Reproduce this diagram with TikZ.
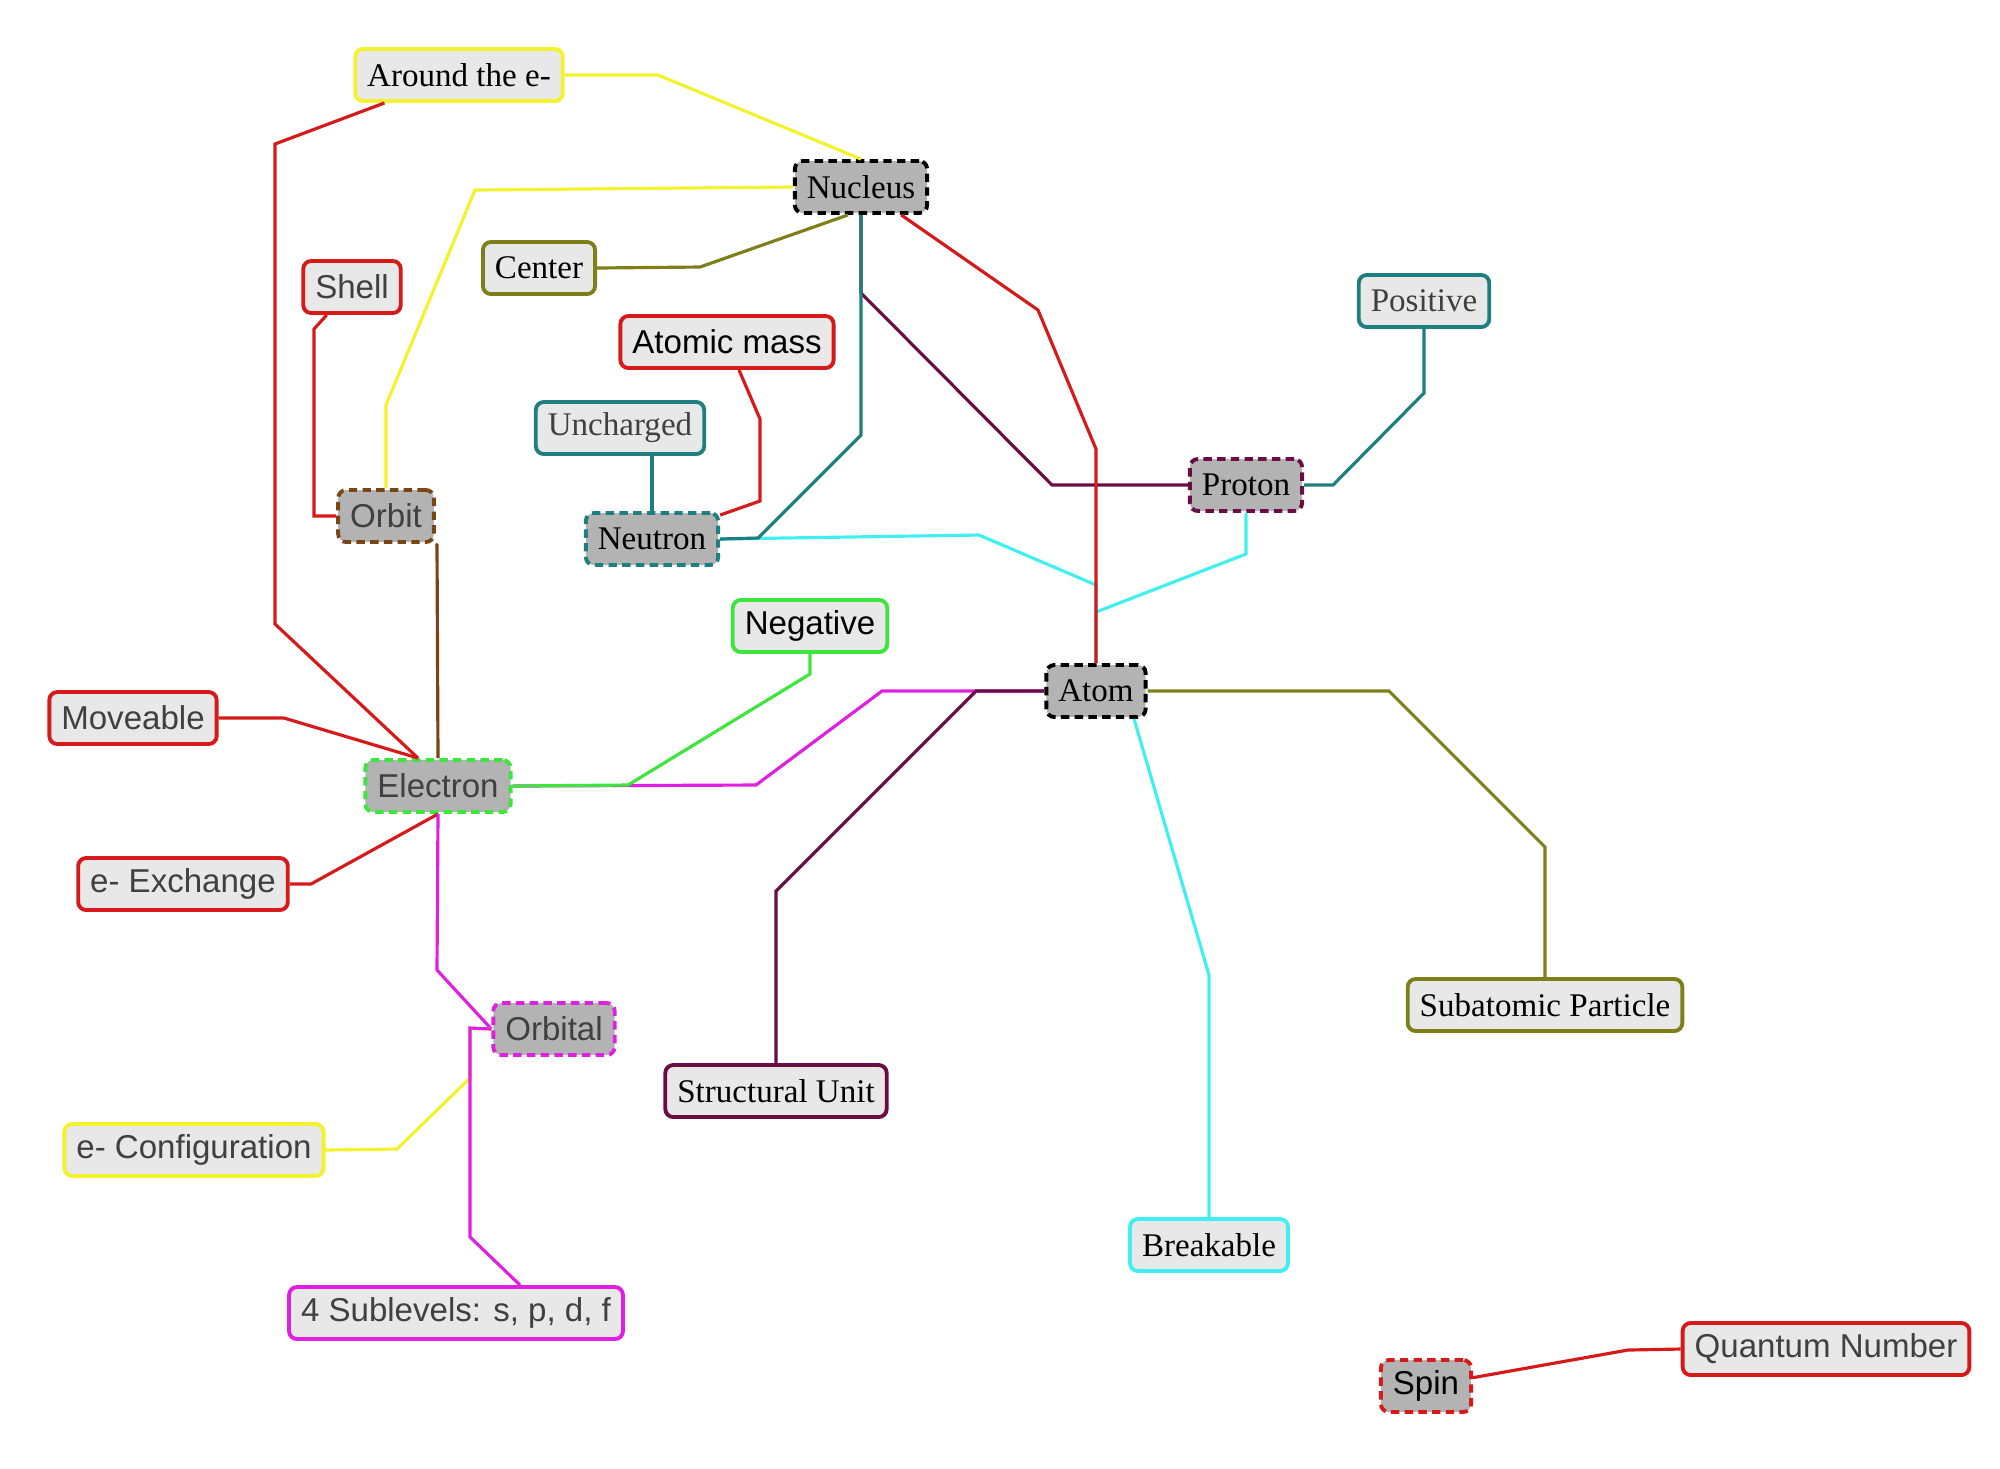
\documentclass[tikz,border=0pt]{standalone}
\usepackage{xcolor}
\usepackage{fontspec}
\setmainfont{Liberation Serif}
\setsansfont{Liberation Sans}

\definecolor{leafgray}{HTML}{E8E8E8}
\definecolor{hubgray}{HTML}{B3B3B3}
\definecolor{txtgray}{HTML}{404040}
\definecolor{cyel}{HTML}{F2F22E}
\definecolor{cred}{HTML}{D61A1A}
\definecolor{colive}{HTML}{7F7F1A}
\definecolor{cteal}{HTML}{1F7F7F}
\definecolor{cbrown}{HTML}{7A4514}
\definecolor{cgreen}{HTML}{3CE63C}
\definecolor{cmag}{HTML}{E020E0}
\definecolor{ccyan}{HTML}{40F0F0}
\definecolor{cmaroon}{HTML}{6B0D45}

\tikzset{
    leaf/.style={draw, rounded corners=0.08cm, fill=leafgray, line width=1.1pt,
        minimum height=0.52cm, inner xsep=0.12cm, inner ysep=0pt,
        font=\rmfamily\fontsize{9.4}{11}\selectfont},
    hub/.style={leaf, fill=hubgray, dash pattern=on 2.4pt off 1.5pt},
    sans/.style={font=\sffamily\fontsize{9.4}{11}\selectfont, text=txtgray},
    link/.style={line width=0.9pt}
}

\begin{document}
\begin{tikzpicture}[x=0.01cm, y=-0.01cm]
    \useasboundingbox (0,0) rectangle (2000,1468);

    % hubs
    \node[hub, draw=black] (nucleus) at (861,187) {Nucleus};
    \node[hub, draw=black] (atom) at (1096,691) {Atom};
    \node[hub, draw=cmaroon] (proton) at (1246,485) {Proton};
    \node[hub, draw=cteal] (neutron) at (652,539) {Neutron};
    \node[hub, draw=cbrown, sans] (orbit) at (386,516) {Orbit};
    \node[hub, draw=cgreen, sans] (electron) at (438,786) {Electron};
    \node[hub, draw=cmag, sans] (orbital) at (554,1029) {Orbital};
    \node[hub, draw=cred, sans, text=black] (spin) at (1426,1386) {Spin};

    % leaves
    \node[leaf, draw=cyel] (around) at (459,75) {Around the e-};
    \node[leaf, draw=colive] (center) at (539,268) {Center};
    \node[leaf, draw=cred, sans] (shell) at (352,287) {Shell};
    \node[leaf, draw=cred, sans, text=black] (atomic) at (727,342) {Atomic mass};
    \node[leaf, draw=cteal, text=txtgray] (uncharged) at (620,428) {Uncharged};
    \node[leaf, draw=cteal, text=txtgray] (positive) at (1424,301) {Positive};
    \node[leaf, draw=cgreen, sans, text=black] (negative) at (810,626) {Negative};
    \node[leaf, draw=cred, sans] (moveable) at (133,718) {Moveable};
    \node[leaf, draw=cred, sans] (exchange) at (183,884) {e- Exchange};
    \node[leaf, draw=cyel, sans] (config) at (194,1150) {e- Configuration};
    \node[leaf, draw=cmag, sans] (sublevels) at (456,1313) {4 Sublevels: s, p, d, f};
    \node[leaf, draw=cmaroon] (structural) at (776,1091) {Structural Unit};
    \node[leaf, draw=colive] (subatomic) at (1545,1005) {Subatomic Particle};
    \node[leaf, draw=ccyan] (breakable) at (1209,1245) {Breakable};
    \node[leaf, draw=cred, sans] (quantum) at (1826,1349) {Quantum Number};

    % links around the nucleus
    \draw[link, cyel] (around.east) -- (658,75) -- (nucleus.north);
    \draw[link, cred] (around) -- (275,144) -- (275,624) -- ([xshift=-0.2cm]electron.north);
    \draw[link, cyel] (nucleus.west) -- (475,190) -- (386,405) -- (orbit.north);
    \draw[link, colive] ([xshift=-0.13cm]nucleus.south) -- (700,267) -- (center.east);
    \draw[link, cred] (shell) -- (314,329) -- (314,516) -- (orbit.west);
    \draw[link, cred] (atomic) -- (760,419) -- (760,501) -- (neutron);
    \draw[link, cteal] (neutron.north |- uncharged.south) -- (neutron.north);
    \draw[link, cmaroon] (nucleus.south) -- (861,293) -- (1052,485) -- (proton.west);
    \draw[link, ccyan] (neutron.east) -- (979,535) -- (1096,585) -- (atom.north);
    \draw[link, ccyan] (proton.south) -- (1246,554) -- (1096,612) -- (atom.north);
    \draw[link, cteal] (nucleus.south) -- (861,435) -- (758,538) -- (neutron.east);
    \draw[link, cred] (nucleus) -- (1038,310) -- (1096,449) -- (atom.north);
    \draw[link, cteal] (proton.east) -- (1333,485) -- (1424,393) -- (positive.south);

    % links around the atom
    \draw[link, colive] (atom.east) -- (1389,691) -- (1545,847) -- (subatomic.north);
    \draw[link, ccyan] ([xshift=0.38cm]atom.south) -- (1209,975) -- (breakable.north);
    \draw[link, cmag] (atom.west) -- (882,691) -- (756,785) -- (electron.east);
    \draw[link, cmaroon] (atom.west) -- (976,691) -- (776,891) -- (structural.north);
    \draw[link, cgreen] (negative.south) -- (810,674) -- (628,785) -- (electron.east);

    % links around the electron
    \draw[link, cbrown] (orbit.south east) -- (437,545) -- (electron.north);
    \draw[link, cred] (moveable.east) -- (284,718) -- ([xshift=-0.2cm]electron.north);
    \draw[link, cred] (electron.south) -- (311,884) -- (exchange.east);
    \draw[link, cmag] (electron.south) -- (437,970) -- (orbital.west);
    \draw[link, cyel] (orbital.west) -- (470,1028) -- (470,1078) -- (397,1149) -- (config.east);
    \draw[link, cmag] (orbital.west) -- (470,1028) -- (470,1237) -- ([xshift=0.64cm]sublevels.north);

    % spin
    \draw[link, cred] (spin) -- (1628,1350) -- (quantum.west);

\end{tikzpicture}
\end{document}
